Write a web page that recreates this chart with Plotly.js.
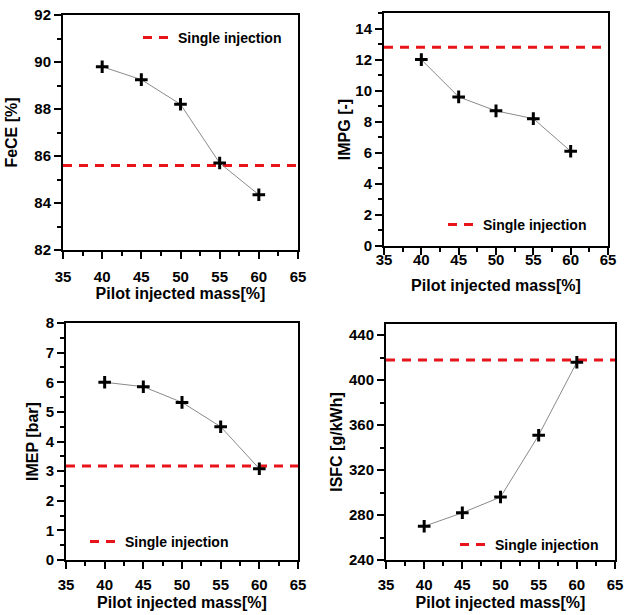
<!DOCTYPE html>
<html>
<head>
<meta charset="utf-8">
<script src="https://cdn.plot.ly/plotly-3.0.1.min.js"></script>
<style>
  html, body { margin: 0; padding: 0; background: #fff; }
  #chart { width: 624px; height: 615px; }
</style>
</head>
<body>
<div id="chart"></div>
<script>
// ---- data ----
const pilotMass = [40, 45, 50, 55, 60];
const fece = [89.8, 89.25, 88.2, 85.7, 84.35];
const impg = [12.0, 9.6, 8.7, 8.2, 6.1];
const imep = [6.0, 5.85, 5.32, 4.5, 3.08];
const isfc = [270, 282, 296, 351, 416];
const singleFece = 85.6;
const singleImpg = 12.8;
const singleImep = 3.17;
const singleIsfc = 418;
const xRange = [35, 65];
const xTitle = 'Pilot injected mass[%]';
const legendName = 'Single injection';
const yTitles = ['FeCE [%]', 'IMPG [-]', 'IMEP [bar]', 'ISFC [g/kWh]'];

const W = 624, H = 615;
const FONT = 'Liberation Sans, Arial, Helvetica, sans-serif';
const RED = '#e8141a';

const panels = [
  { vals: fece, single: singleFece, box: [63, 298, 15, 250], yr: [82, 92], dt: 2, mdt: 1, xstand: 5, xts: 4, yts: 13 },
  { vals: impg, single: singleImpg, box: [384, 608, 13, 246], yr: [0, 15], dt: 2, mdt: 1, xstand: -8, xts: 13, yts: 1 },
  { vals: imep, single: singleImep, box: [66, 298, 323, 560], yr: [0, 8], dt: 1, mdt: 0.5, xstand: 3, xts: 5, yts: 3 },
  { vals: isfc, single: singleIsfc, box: [386, 615, 324, 560], yr: [240, 450], dt: 40, mdt: 20, xstand: 3, xts: 5, yts: 2 }
];
const legendPos = [[138, 38], [443, 225], [85, 542], [455, 545]];

const traces = [];
const layout = {
  width: W, height: H,
  margin: { l: 0, r: 0, t: 0, b: 0 },
  paper_bgcolor: '#fff', plot_bgcolor: '#fff',
  font: { family: FONT, size: 15, color: '#000', weight: 700 },
  showlegend: true
};

panels.forEach((p, i) => {
  const n = i === 0 ? '' : String(i + 1);
  const xa = 'x' + n, ya = 'y' + n;
  const lg = 'legend' + n;
  traces.push({
    x: xRange, y: [p.single, p.single],
    xaxis: xa, yaxis: ya,
    mode: 'lines', name: legendName, legend: lg,
    line: { color: RED, width: 3, dash: '9px,7px' },
    hoverinfo: 'skip'
  });
  traces.push({
    x: pilotMass, y: p.vals,
    xaxis: xa, yaxis: ya,
    mode: 'lines+markers', showlegend: false,
    line: { color: '#8a8a8a', width: 1 },
    marker: { symbol: 'cross-thin', size: 9, color: '#000', line: { color: '#000', width: 3 } }
  });
  const [x0, x1, y0, y1] = p.box;
  const common = {
    showline: true, linewidth: 2, linecolor: '#000', mirror: true,
    ticks: 'outside', ticklen: 7, tickwidth: 2, tickcolor: '#000',
    showgrid: false, zeroline: false,
    tickfont: { family: FONT, size: 15, color: '#000', weight: 700 }
  };
  layout['xaxis' + n] = Object.assign({}, common, {
    domain: [x0 / W, x1 / W], anchor: ya,
    range: xRange, dtick: 5, tick0: 35,
    minor: { dtick: 2.5, ticklen: 4, tickwidth: 2, tickcolor: '#000', ticks: 'outside' },
    ticklabelstandoff: p.xstand,
    title: { text: xTitle, font: { family: FONT, size: 16, color: '#000', weight: 700 }, standoff: p.xts }
  });
  layout['yaxis' + n] = Object.assign({}, common, {
    domain: [1 - y1 / H, 1 - y0 / H], anchor: xa,
    range: p.yr, dtick: p.dt, tick0: p.yr[0],
    minor: { dtick: p.mdt, ticklen: 4, tickwidth: 2, tickcolor: '#000', ticks: 'outside' },
    title: { text: yTitles[i], font: { family: FONT, size: 16, color: '#000', weight: 700 }, standoff: p.yts }
  });
  const [lx, ly] = legendPos[i];
  layout[lg] = {
    x: lx / W, y: 1 - ly / H, xanchor: 'left', yanchor: 'middle',
    bgcolor: 'rgba(0,0,0,0)', borderwidth: 0,
    font: { family: FONT, size: 14, color: '#000', weight: 700 },
    itemwidth: 30
  };
});

Plotly.newPlot('chart', traces, layout, { displayModeBar: false, staticPlot: true });
</script>
</body>
</html>
